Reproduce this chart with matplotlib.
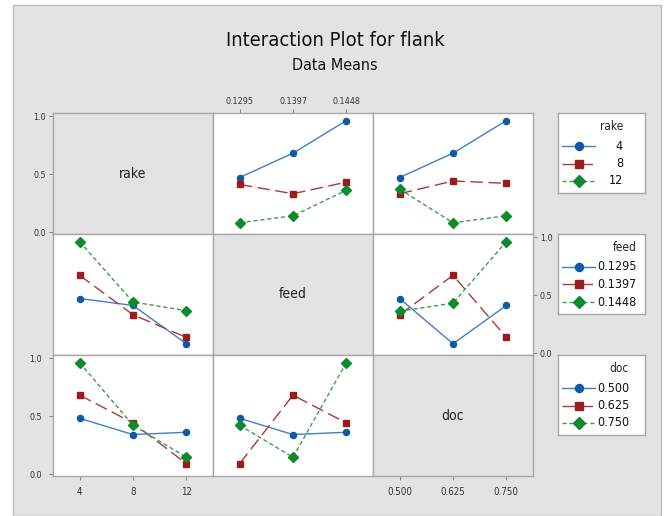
import matplotlib
matplotlib.use("Agg")
import matplotlib.pyplot as plt
from matplotlib.patches import Rectangle

plt.rcParams['font.family'] = ['DejaVu Sans']
plt.rcParams['font.stretch'] = 'condensed'

# factors and levels
factors = ['rake', 'feed', 'doc']
levels = {
    'rake': ['4', '8', '12'],
    'feed': ['0.1295', '0.1397', '0.1448'],
    'doc': ['0.500', '0.625', '0.750'],
}

# means of flank: key = (row factor = trace, column factor = x axis)
# each list holds one trace per level of the row factor
rake_by_feed = [[0.47, 0.68, 0.96], [0.41, 0.33, 0.43], [0.08, 0.14, 0.36]]
rake_by_doc = [[0.47, 0.68, 0.96], [0.33, 0.44, 0.42], [0.37, 0.08, 0.14]]
feed_by_rake = [[0.47, 0.41, 0.08], [0.67, 0.33, 0.135], [0.96, 0.44, 0.365]]
feed_by_doc = [[0.47, 0.08, 0.41], [0.33, 0.67, 0.135], [0.36, 0.43, 0.96]]
doc_by_rake = [[0.48, 0.34, 0.36], [0.68, 0.44, 0.09], [0.96, 0.42, 0.145]]
doc_by_feed = [[0.48, 0.34, 0.36], [0.09, 0.68, 0.44], [0.42, 0.145, 0.96]]

cells = {
    (0, 1): rake_by_feed, (0, 2): rake_by_doc,
    (1, 0): feed_by_rake, (1, 2): feed_by_doc,
    (2, 0): doc_by_rake, (2, 1): doc_by_feed,
}

colors = ['#0f5aa8', '#9a1c1c', '#0d8a2c']
line_colors = ['#3f7fc4', '#a83a3a', '#3c9c50']
markers = ['o', 's', 'D']
msizes = [4.4, 4.8, 4.8]
dashes = [(None, None), (9, 4), (3, 2)]

W, H = 664, 516
BG = '#e3e3e3'
EDGE = '#a8a8a8'

fig = plt.figure(figsize=(W / 100, H / 100), dpi=100)
fig.patch.set_facecolor('white')
fig.patches.append(Rectangle((13 / W, 0), (661 - 13) / W, 1 - 5 / H,
                             transform=fig.transFigure, facecolor=BG,
                             edgecolor='#bdbdbd', lw=1.0, zorder=-10))


def px_axes(x, y, w, h):
    return fig.add_axes([x / W, 1 - (y + h) / H, w / W, h / H])


fig.text(335 / W, 1 - 41 / H, 'Interaction Plot for flank', ha='center',
         va='center', fontsize=14.5, color='#111111')
fig.text(335 / W, 1 - 66 / H, 'Data Means', ha='center', va='center',
         fontsize=11.5, color='#111111')

x0s = [53, 213, 373]
y0s = [113, 234, 355]
pw, ph = 160, 121
tick_color = '#333333'

for r in range(3):
    for c in range(3):
        ax = px_axes(x0s[c], y0s[r], pw, ph)
        ax.set_xlim(-0.5, 2.5)
        ax.set_ylim(-0.017, 1.026)
        for s in ax.spines.values():
            s.set_color(EDGE)
            s.set_linewidth(1.0)
        ax.tick_params(length=3, width=0.8, color='#888888', labelsize=6.5,
                       labelcolor=tick_color, pad=2)
        ax.set_xticks([0, 1, 2])
        ax.set_yticks([0, 0.5, 1.0])
        ax.tick_params(bottom=False, labelbottom=False, left=False,
                       labelleft=False)
        if r == c:
            ax.set_facecolor(BG)
            ax.text(0.5, 0.5, factors[r], transform=ax.transAxes,
                    ha='center', va='center', fontsize=10, color='#222222')
        else:
            ax.set_facecolor('white')
            data = cells[(r, c)]
            for i, ys in enumerate(data):
                ln, = ax.plot(range(3), ys, color=line_colors[i], lw=1.0,
                              marker=markers[i], ms=msizes[i],
                              mfc=colors[i], mec=colors[i])
                if dashes[i][0] is not None:
                    ln.set_dashes(dashes[i])
        # y tick labels: rows 0 and 2 on the left, row 1 on the right
        if c == 0 and r in (0, 2):
            ax.tick_params(left=True, labelleft=True)
            ax.set_yticklabels(['0.0', '0.5', '1.0'])
        if c == 2 and r == 1:
            ax.tick_params(right=True, labelright=True)
            ax.set_yticklabels(['0.0', '0.5', '1.0'])
        # x tick labels
        if r == 0 and c == 1:
            ax.tick_params(top=True, labeltop=True)
            ax.set_xticklabels(levels[factors[c]])
        if r == 2 and c in (0, 2):
            ax.tick_params(bottom=True, labelbottom=True, pad=5)
            ax.set_xticklabels(levels[factors[c]], fontsize=7)

# legends, one per factor
leg_x, leg_w, leg_h = 558, 87, 80
label_right = {'rake': 65, 'feed': 79, 'doc': 71}
for r, f in enumerate(factors):
    lax = px_axes(leg_x, y0s[r], leg_w, leg_h)
    lax.set_xlim(0, leg_w)
    lax.set_ylim(leg_h, 0)
    lax.set_xticks([])
    lax.set_yticks([])
    lax.set_facecolor('white')
    for s in lax.spines.values():
        s.set_color(EDGE)
        s.set_linewidth(1.0)
    right = label_right[f]
    lax.text(right, 13.5, f, ha='right', va='center', fontsize=8.5,
             color='#222222')
    for i, lab in enumerate(levels[f]):
        yy = 33 + i * 17.5
        ln, = lax.plot([4, 37], [yy, yy], color=line_colors[i], lw=1.0)
        if dashes[i][0] is not None:
            ln.set_dashes(dashes[i])
        lax.plot([20.5], [yy], marker=markers[i], ms=msizes[i] + 1.4,
                 color=colors[i], ls='none')
        lax.text(right, yy, lab, ha='right', va='center', fontsize=9,
                 color='#111111')

fig.savefig('out.png', dpi=100, facecolor=fig.get_facecolor())
